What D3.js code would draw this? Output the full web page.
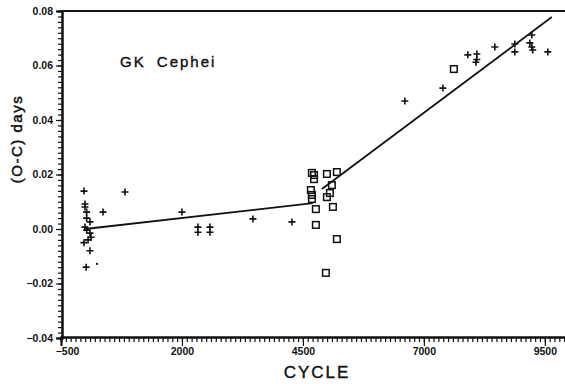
<!DOCTYPE html>
<html>
<head>
<meta charset="utf-8">
<script src="https://cdn.jsdelivr.net/npm/d3@7"></script>
<style>
  body { margin: 0; background: #fff; }
  svg { display: block; }
  text { font-family: "Liberation Sans", Arial, sans-serif; fill: #111; }
</style>
</head>
<body>
<svg width="565" height="384"></svg>
<script>
// plus-sign observations: [cycle, O-C days]
const plusCycle = [-25, 822, -5, -5, 30, 368, 30, 99, -5, 30, 99, 120, 60, -25, 99, 20,
  2000, 2330, 2330, 2578, 2578, 3467, 4273,
  6607, 7393, 7909, 8095, 8095, 8075, 8467, 8880, 8880, 9231, 9190, 9231, 9250, 9562];
const plusOC = [0.0139, 0.0136, 0.0092, 0.0081, 0.0062, 0.0062, 0.0040, 0.0026, 0.0007, -0.0004, -0.0015, -0.0030, -0.0040, -0.0050, -0.0080, -0.0140,
  0.0062, 0.0007, -0.0012, 0.0007, -0.0012, 0.0037, 0.0026,
  0.0470, 0.0517, 0.0639, 0.0642, 0.0622, 0.0612, 0.0668, 0.0679, 0.0650, 0.0712, 0.0683, 0.0668, 0.0657, 0.0650];

// open-square observations
const squareCycle = [4686, 4730, 4730, 4996, 5202, 5099, 4665, 5058, 4996, 4686, 4686, 4768, 5120, 4768, 5202, 4975, 7620];
const squareOC = [0.0206, 0.0198, 0.0183, 0.0202, 0.0209, 0.0161, 0.0143, 0.0132, 0.0117, 0.0125, 0.0110, 0.0073, 0.0081, 0.0015, -0.0037, -0.0161, 0.0587];

// fitted line segments
const fit1Cycle = [-5, 4706];
const fit1OC = [0.0000, 0.0095];
const fit2Cycle = [4893, 9645];
const fit2OC = [0.0147, 0.0778];

const xMajor = [-500, 2000, 4500, 7000, 9500];
const yMajor = [-0.04, -0.02, 0.00, 0.02, 0.04, 0.06, 0.08];
const yLabels = ['-0.04', '-0.02', '0.00', '0.02', '0.04', '0.06', '0.08'];

const svg = d3.select('svg');
const x = d3.scaleLinear().domain([-500, 10000]).range([61, 569]);
const y = d3.scaleLinear().domain([-0.04, 0.08]).range([338, 11]);

// minor ticks
const xMinor = d3.range(-500, 10001, 100);
const yMinor = d3.range(-40, 81, 2).map(v => v / 1000);

svg.append('g').attr('transform', 'translate(0,337)')
  .call(d3.axisBottom(x).tickValues(xMinor).tickSize(5).tickFormat(''));
const xAxisMajor = svg.append('g').attr('transform', 'translate(0,337)')
  .call(d3.axisBottom(x).tickValues(xMajor).tickSize(9).tickPadding(2).tickFormat(d => d === -500 ? '\u2212500' : d));
svg.append('g').attr('transform', 'translate(62,0)')
  .call(d3.axisLeft(y).tickValues(yMinor).tickSize(4).tickFormat(''));
const yAxisMajor = svg.append('g').attr('transform', 'translate(62,0)')
  .call(d3.axisLeft(y).tickValues(yMajor).tickSize(6).tickPadding(3)
    .tickFormat((d, i) => yLabels[i].replace('-', '\u2212')));

svg.selectAll('.domain').attr('stroke', '#111').attr('stroke-width', 2);
svg.selectAll('.tick line').attr('stroke', '#111').attr('stroke-width', 1.2);
xAxisMajor.selectAll('text').attr('font-size', 10.5).attr('font-weight', 'bold').attr('fill', '#111');
xAxisMajor.selectAll('.tick').filter(d => d === -500).select('text').attr('dx', 6);
yAxisMajor.selectAll('text').attr('font-size', 10.5).attr('font-weight', 'bold').attr('fill', '#111');

// top frame line
svg.append('line')
  .attr('x1', 61).attr('x2', 565).attr('y1', y(0.08)).attr('y2', y(0.08))
  .attr('stroke', '#111').attr('stroke-width', 2.2);

// fitted lines
const line = d3.line().x(d => x(d[0])).y(d => y(d[1]));
[[fit1Cycle, fit1OC], [fit2Cycle, fit2OC]].forEach(([c, v]) => {
  svg.append('path')
    .attr('d', line(c.map((cc, i) => [cc, v[i]])))
    .attr('fill', 'none').attr('stroke', '#111').attr('stroke-width', 1.8);
});

// plus markers
const plusData = plusCycle.map((c, i) => ({ c, v: plusOC[i] }));
svg.append('g').selectAll('path')
  .data(plusData).enter().append('path')
  .attr('d', d => {
    const px = x(d.c), py = y(d.v), s = 3.5;
    return `M${px - s},${py}H${px + s}M${px},${py - s}V${py + s}`;
  })
  .attr('stroke', '#111').attr('stroke-width', 1.6);

// square markers
const squareData = squareCycle.map((c, i) => ({ c, v: squareOC[i] }));
svg.append('g').selectAll('rect')
  .data(squareData).enter().append('rect')
  .attr('x', d => x(d.c) - 3.3).attr('y', d => y(d.v) - 3.3)
  .attr('width', 6.6).attr('height', 6.6)
  .attr('fill', 'none').attr('stroke', '#111').attr('stroke-width', 1.5);

// stray dot near the left cluster
svg.append('circle').attr('cx', x(244)).attr('cy', y(-0.0128)).attr('r', 1.1).attr('fill', '#111');

// labels
svg.append('text')
  .attr('x', 120).attr('y', 67)
  .attr('font-size', 15).attr('letter-spacing', 2).attr('word-spacing', 5)
  .attr('stroke', '#111').attr('stroke-width', 0.4)
  .text('GK Cephei');

svg.append('text')
  .attr('transform', 'translate(22,139) rotate(-90)')
  .attr('text-anchor', 'middle')
  .attr('font-size', 15).attr('letter-spacing', 1.5)
  .attr('stroke', '#111').attr('stroke-width', 0.5)
  .text('(O-C) days');

svg.append('text')
  .attr('x', 317).attr('y', 378)
  .attr('text-anchor', 'middle')
  .attr('font-size', 17).attr('letter-spacing', 2)
  .attr('stroke', '#111').attr('stroke-width', 0.4)
  .text('CYCLE');
</script>
</body>
</html>
